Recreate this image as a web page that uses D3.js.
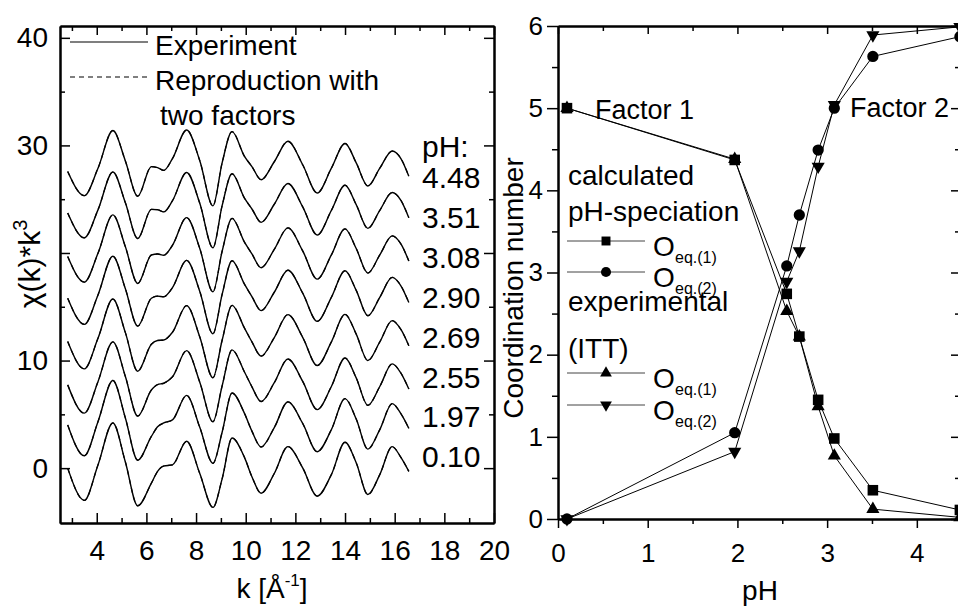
<!DOCTYPE html>
<html>
<head>
<meta charset="utf-8">
<script src="https://cdn.jsdelivr.net/npm/d3@7"></script>
<style>
body { margin: 0; background: #fff; }
svg text { font-family: "Liberation Sans", Arial, sans-serif; fill: #000; }
</style>
</head>
<body>
<div id="viz"></div>
<script>
// ---------- left panel: k^3-weighted EXAFS, shifted per pH ----------
const kPts = [2.83, 3.5, 4.05, 4.65, 5.15, 5.65, 6.2, 6.45, 6.7, 7.05, 7.62, 8.15, 8.68, 9.05, 9.45,
	9.95, 10.25, 10.62, 11.15, 11.7, 12.3, 12.88, 13.45, 14.0, 14.45, 14.92, 15.4, 15.9, 16.25, 16.57];

const chi448 = [27.58, 25.33, 27.88, 31.38, 28.58, 25.28, 28.03, 27.93, 27.68, 28.78, 31.43, 28.58, 24.38, 28.38, 31.28,
	28.98, 28.03, 26.81, 28.48, 30.38, 28.18, 25.58, 27.88, 30.18, 28.38, 26.23, 27.88, 29.48, 28.78, 27.13];
const chi351 = [23.71, 21.41, 24.01, 27.53, 24.69, 21.34, 24.05, 24.02, 23.82, 24.86, 27.48, 24.62, 20.48, 24.40, 27.36,
	25.09, 24.09, 22.85, 24.53, 26.46, 24.27, 21.67, 23.96, 26.30, 24.49, 22.29, 23.96, 25.62, 24.90, 23.27];
const chi308 = [19.67, 17.29, 19.97, 23.54, 20.60, 17.17, 19.81, 19.91, 19.79, 20.72, 23.29, 20.42, 16.39, 20.16, 23.22,
	21.00, 19.91, 18.63, 20.33, 22.33, 20.17, 17.57, 19.82, 22.24, 20.42, 18.13, 19.82, 21.59, 20.84, 19.25];
const chi290 = [15.80, 13.36, 16.10, 19.70, 16.70, 13.20, 15.79, 15.99, 15.93, 16.78, 19.31, 16.43, 12.49, 16.15, 19.28,
	17.10, 15.94, 14.64, 16.35, 18.40, 16.25, 13.65, 15.88, 18.35, 16.53, 14.17, 15.88, 17.73, 16.95, 15.39];
const chi269 = [11.77, 9.23, 12.07, 15.72, 12.62, 9.01, 11.52, 11.87, 11.91, 12.63, 15.11, 12.20, 8.40, 11.89, 15.13,
	13.02, 11.74, 10.41, 12.14, 14.27, 12.14, 9.54, 11.73, 14.29, 12.46, 10.00, 11.73, 13.71, 12.89, 11.38];
const chi255 = [7.74, 5.11, 8.04, 11.74, 8.54, 4.84, 7.26, 7.77, 7.89, 8.49, 10.92, 7.99, 4.31, 7.64, 10.99,
	8.94, 7.56, 6.19, 7.94, 10.14, 8.04, 5.44, 7.59, 10.24, 8.39, 5.84, 7.59, 9.69, 8.84, 7.36];
const chi197 = [4.02, 1.15, 4.32, 8.15, 4.69, 0.74, 2.95, 3.84, 4.20, 4.48, 6.76, 3.79, 0.45, 3.34, 6.98,
	5.09, 3.44, 1.97, 3.77, 6.16, 4.13, 1.53, 3.58, 6.46, 4.57, 1.77, 3.58, 6.00, 5.06, 3.69];
const chi010 = [0, -3.0, 0.3, 4.2, 0.6, -3.5, -1.4, -0.3, 0.2, 0.3, 2.5, -0.5, -3.65, -1.0, 2.8,
	1.0, -0.8, -2.33, -0.5, 2.0, 0.0, -2.6, -0.6, 2.4, 0.5, -2.45, -0.6, 2.0, 1.0, -0.3];

const spectra = [chi448, chi351, chi308, chi290, chi269, chi255, chi197, chi010];
const phLabels = ["4.48", "3.51", "3.08", "2.90", "2.69", "2.55", "1.97", "0.10"];

const kMajor = [4, 6, 8, 10, 12, 14, 16, 18, 20];
const kMinor = [3, 5, 7, 9, 11, 13, 15, 17, 19];
const chiMajor = [0, 10, 20, 30, 40];
const chiMinor = [5, 15, 25, 35];
const chiLabels = [0, 10, 30, 40];

// ---------- right panel: coordination numbers vs pH ----------
const pH = [0.10, 1.97, 2.55, 2.69, 2.90, 3.08, 3.51, 4.48];
const calcEq1 = [5.0, 4.37, 2.74, 2.22, 1.45, 0.98, 0.35, 0.11];
const calcEq2 = [0.0, 1.05, 3.08, 3.70, 4.49, 5.00, 5.63, 5.87];
const ittEq1 = [5.0, 4.38, 2.53, 2.22, 1.37, 0.77, 0.12, 0.02];
const ittEq2 = [0.0, 0.82, 2.89, 3.26, 4.29, 5.04, 5.89, 5.99];

const pHMajor = [0, 1, 2, 3, 4];
const pHMinor = [0.5, 1.5, 2.5, 3.5];
const cnMajor = [0, 1, 2, 3, 4, 5, 6];
const cnMinor = [0.5, 1.5, 2.5, 3.5, 4.5, 5.5];

const svg = d3.select("#viz").append("svg")
	.attr("width", 958).attr("height", 607);

function addAxis(maker, scale, pos, vals, size, fmt, pad, fs) {
	let ax = maker(scale).tickValues(vals).tickSizeInner(size).tickSizeOuter(0)
		.tickFormat(fmt || (() => "")).tickPadding(pad || 3);
	let g = svg.append("g").attr("transform", pos).call(ax);
	g.select(".domain").attr("stroke", "#000").attr("stroke-width", 2);
	g.selectAll(".tick line").attr("stroke", "#000").attr("stroke-width", 1.5);
	g.selectAll(".tick text").style("font-size", (fs || 28) + "px")
		.style("font-family", "'Liberation Sans', Arial, sans-serif").attr("fill", "#000");
	return g;
}

// ===== left panel =====
const xL = d3.scaleLinear().domain([2.52, 20]).range([60, 494]);
const yL = d3.scaleLinear().domain([-5.1, 41.1]).range([523, 26]);

addAxis(d3.axisBottom, xL, "translate(0,523)", kMinor, -5);
addAxis(d3.axisBottom, xL, "translate(0,523)", kMajor, -10, d => d, 17);
addAxis(d3.axisTop, xL, "translate(0,26)", kMinor, -5);
addAxis(d3.axisTop, xL, "translate(0,26)", kMajor, -9);
addAxis(d3.axisLeft, yL, "translate(60,0)", chiMinor, -5);
addAxis(d3.axisLeft, yL, "translate(60,0)", chiMajor, -10,
	d => chiLabels.includes(d) ? d : "", 12);
addAxis(d3.axisRight, yL, "translate(494,0)", chiMinor, -5);
addAxis(d3.axisRight, yL, "translate(494,0)", chiMajor, -10);

const chiLine = d3.line()
	.x((d, i) => xL(kPts[i]))
	.y(d => yL(d))
	.curve(d3.curveMonotoneX);

// reproduction (dashed) under the experiment (solid)
svg.append("g").selectAll("path.fit").data(spectra).join("path")
	.attr("class", "fit")
	.attr("d", chiLine)
	.attr("fill", "none").attr("stroke", "#000")
	.attr("stroke-width", 1.2).attr("stroke-dasharray", "5,4");
svg.append("g").selectAll("path.exp").data(spectra).join("path")
	.attr("class", "exp")
	.attr("d", chiLine)
	.attr("fill", "none").attr("stroke", "#000")
	.attr("stroke-width", 1.4);

// legend
svg.append("line").attr("x1", 70).attr("x2", 148).attr("y1", 42).attr("y2", 42)
	.attr("stroke", "#000").attr("stroke-width", 1.2);
svg.append("line").attr("x1", 70).attr("x2", 148).attr("y1", 77).attr("y2", 77)
	.attr("stroke", "#000").attr("stroke-width", 1.2).attr("stroke-dasharray", "5,4");
svg.append("text").text("Experiment").attr("x", 155).attr("y", 55).style("font-size", "28px");
svg.append("text").text("Reproduction with").attr("x", 155).attr("y", 90).style("font-size", "28px");
svg.append("text").text("two factors").attr("x", 160).attr("y", 125).style("font-size", "28px");

// pH labels
svg.append("text").text("pH:").attr("x", 422).attr("y", 157).style("font-size", "30px");
svg.append("g").selectAll("text").data(phLabels).join("text")
	.text(d => d)
	.attr("x", 422)
	.attr("y", (d, i) => 188 + i * 39.9)
	.style("font-size", "30px");

// axis titles
let yt = svg.append("text").attr("transform", "translate(40,264) rotate(-90)")
	.attr("text-anchor", "middle").style("font-size", "30px");
yt.append("tspan").text("\u03c7(k)*k");
yt.append("tspan").text("3").attr("dy", -13).style("font-size", "20px");

let xt = svg.append("text").attr("x", 272).attr("y", 598)
	.attr("text-anchor", "middle").style("font-size", "28px");
xt.append("tspan").text("k [\u00c5");
xt.append("tspan").text("-1").attr("dy", -12).style("font-size", "17px");
xt.append("tspan").text("]").attr("dy", 12);

// ===== right panel =====
const xR = d3.scaleLinear().domain([0, 4.47]).range([558, 959]);
const yR = d3.scaleLinear().domain([0, 6]).range([519, 26]);

addAxis(d3.axisBottom, xR, "translate(0,519)", pHMinor, 5);
addAxis(d3.axisBottom, xR, "translate(0,519)", pHMajor, 9, d => d, 16, 26);
addAxis(d3.axisTop, xR, "translate(0,26)", pHMinor, -5);
addAxis(d3.axisTop, xR, "translate(0,26)", pHMajor, -8);
addAxis(d3.axisLeft, yR, "translate(558,0)", cnMinor, 6);
addAxis(d3.axisLeft, yR, "translate(558,0)", cnMajor, 11, d => d, 4, 26);
addAxis(d3.axisRight, yR, "translate(959,0)", cnMinor, -4);
addAxis(d3.axisRight, yR, "translate(959,0)", cnMajor, -8);

const cnLine = d3.line().x((d, i) => xR(pH[i])).y(d => yR(d));

const series = [
	{ v: ittEq1, sym: d3.symbolTriangle, size: 75, rot: 0 },
	{ v: calcEq1, sym: d3.symbolSquare, size: 112, rot: 0 },
	{ v: calcEq2, sym: d3.symbolCircle, size: 100, rot: 0 },
	{ v: ittEq2, sym: d3.symbolTriangle, size: 75, rot: 180 }
];

series.forEach(s => {
	svg.append("path").attr("d", cnLine(s.v))
		.attr("fill", "none").attr("stroke", "#000").attr("stroke-width", 1);
});
series.forEach(s => {
	svg.append("g").selectAll("path").data(s.v).join("path")
		.attr("d", d3.symbol().type(s.sym).size(s.size))
		.attr("transform", (d, i) => "translate(" + xR(pH[i]) + "," + yR(d) + ") rotate(" + s.rot + ")")
		.attr("fill", "#000");
});

svg.append("text").text("Factor 1").attr("x", 595).attr("y", 119).style("font-size", "27px");
svg.append("text").text("Factor 2").attr("x", 850).attr("y", 117).style("font-size", "27px");

// legend
svg.append("text").text("calculated").attr("x", 568).attr("y", 185).style("font-size", "28px");
svg.append("text").text("pH-speciation").attr("x", 568).attr("y", 221).style("font-size", "28px");
svg.append("text").text("experimental").attr("x", 568).attr("y", 311).style("font-size", "28px");
svg.append("text").text("(ITT)").attr("x", 568).attr("y", 358).style("font-size", "28px");

const legRows = [
	{ y: 241, sym: d3.symbolSquare, size: 80, rot: 0, sub: "eq.(1)" },
	{ y: 272, sym: d3.symbolCircle, size: 80, rot: 0, sub: "eq.(2)" },
	{ y: 373, sym: d3.symbolTriangle, size: 60, rot: 0, sub: "eq.(1)" },
	{ y: 405, sym: d3.symbolTriangle, size: 60, rot: 180, sub: "eq.(2)" }
];
legRows.forEach(r => {
	svg.append("line").attr("x1", 567).attr("x2", 645).attr("y1", r.y).attr("y2", r.y)
		.attr("stroke", "#444").attr("stroke-width", 1);
	svg.append("path").attr("d", d3.symbol().type(r.sym).size(r.size)())
		.attr("transform", "translate(606," + r.y + ") rotate(" + r.rot + ")")
		.attr("fill", "#000");
	svg.append("text").text("O").attr("x", 653).attr("y", r.y + 15).style("font-size", "28px");
	svg.append("text").text(r.sub).attr("x", 675).attr("y", r.y + 22).style("font-size", "16px");
});

svg.append("text").attr("transform", "translate(523,288) rotate(-90)")
	.attr("text-anchor", "middle").style("font-size", "28px").text("Coordination number");
svg.append("text").text("pH").attr("x", 760).attr("y", 600)
	.attr("text-anchor", "middle").style("font-size", "28px");
</script>
</body>
</html>
